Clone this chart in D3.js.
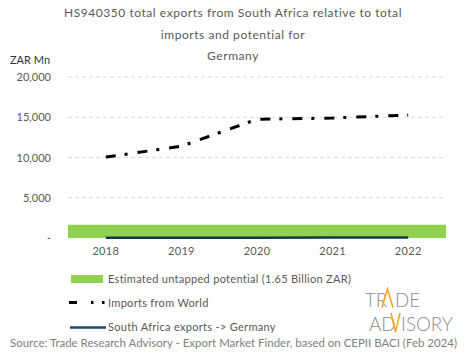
<!DOCTYPE html>
<html>
<head>
<meta charset="utf-8">
<script src="https://cdn.jsdelivr.net/npm/d3@7"></script>
<style>
  html, body { margin: 0; padding: 0; background: #fff; }
  svg { display: block; }
  text { font-family: Lato, "Open Sans", sans-serif; }
</style>
</head>
<body>
<script>
const years = ["2018", "2019", "2020", "2021", "2022"];
const importsFromWorld = [10050, 11400, 14750, 14900, 15280];
const saExports = [40, 45, 35, 50, 55];
const untappedPotential = [1650, 1650, 1650, 1650, 1650];
const yTicks = [0, 5000, 10000, 15000, 20000];
const titleLines = ["HS940350 total exports from South Africa relative  to total", "imports and potential  for", "Germany"];
const legendLabels = ["Estimated untapped potential (1.65 Billion ZAR)", "Imports from World", "South Africa exports -> Germany"];
const sourceText = "Source: Trade Research Advisory - Export Market Finder, based on CEPII BACI (Feb 2024)";

const W = 465, H = 359;
const svg = d3.select("body").append("svg").attr("width", W).attr("height", H);

const x = d3.scaleBand().domain(years).range([68, 446]);
const y = d3.scaleLinear().domain([0, 20000]).range([238, 77]);

// title
svg.append("g").selectAll("text").data(titleLines).join("text")
  .attr("x", 233).attr("y", (d, i) => 17 + i * 21.5)
  .attr("text-anchor", "middle").attr("font-size", 12).attr("letter-spacing", 0.55).attr("fill", "#595959")
  .text(d => d);

svg.append("text").attr("x", 10).attr("y", 64).attr("font-size", 11).attr("fill", "#333").text("ZAR Mn");

// gridlines
svg.append("g").selectAll("line").data(yTicks.filter(d => d > 0)).join("line")
  .attr("x1", 68).attr("x2", 446).attr("y1", d => y(d)).attr("y2", d => y(d))
  .attr("stroke", "#d9d9d9").attr("stroke-dasharray", "4,3").attr("stroke-width", 1);

// y axis
const yAxis = d3.axisLeft(y).tickValues(yTicks).tickSize(0).tickPadding(0)
  .tickFormat(d => d === 0 ? "-" : d3.format(",")(d));
const yg = svg.append("g").attr("transform", "translate(51,0)").call(yAxis);
yg.select(".domain").remove();
yg.selectAll("text").attr("font-size", 11).attr("fill", "#595959").attr("font-family", "Lato, sans-serif");

// x axis
const xAxis = d3.axisBottom(x).tickSize(0).tickPadding(0);
const xg = svg.append("g").attr("transform", "translate(0,247)").call(xAxis);
xg.select(".domain").remove();
xg.selectAll("text").attr("font-size", 11).attr("letter-spacing", 0.3).attr("fill", "#595959").attr("font-family", "Lato, sans-serif");

// potential band (area spanning whole plot)
const potData = untappedPotential.map((v, i) => ({ year: years[i], v }));
const area = d3.area()
  .x((d, i) => i === 0 ? x.range()[0] : (i === potData.length - 1 ? x.range()[1] : x(d.year) + x.bandwidth() / 2))
  .y0(y(0)).y1(d => y(d.v));
svg.append("path").datum(potData).attr("d", area).attr("fill", "#92d050");

// SA exports
const line = d3.line().x((d, i) => x(years[i]) + x.bandwidth() / 2).y(d => y(d));
svg.append("path").datum(saExports).attr("d", line).attr("fill", "none")
  .attr("stroke", "#0e3c46").attr("stroke-width", 2.5);

// imports
svg.append("path").datum(importsFromWorld).attr("d", line).attr("fill", "none")
  .attr("stroke", "#000").attr("stroke-width", 3).attr("stroke-dasharray", "10,9,3,10");

// legend
const lg = svg.append("g");
lg.append("rect").attr("x", 71).attr("y", 275).attr("width", 32).attr("height", 8).attr("fill", "#92d050");
lg.append("path").attr("d", "M69,302.5H106").attr("stroke", "#000").attr("stroke-width", 3)
  .attr("stroke-dasharray", "8,14,2.5,8.5,2.5,20");
lg.append("path").attr("d", "M70,327.5H106").attr("stroke", "#1f4d63").attr("stroke-width", 2.5);
lg.selectAll("text").data(legendLabels).join("text")
  .attr("x", 108).attr("y", (d, i) => 283 + i * 24)
  .attr("font-size", 11).attr("letter-spacing", 0.3).attr("fill", "#595959").text(d => d);

// source
svg.append("text").attr("x", 10).attr("y", 346.5).attr("font-size", 10.5).attr("fill", "#808080")
  .attr("textLength", 447).attr("lengthAdjust", "spacingAndGlyphs").text(sourceText);

// logo (one text element, horizontally condensed)
const logo = svg.append("g");
const lt = logo.append("text").attr("font-family", "Roboto, sans-serif").attr("font-weight", 300)
  .attr("fill", "#8c8c8c").attr("font-size", 20.5);
const probe = lt.append("tspan").text("ISORY");
const s = 52 / probe.node().getComputedTextLength();
probe.remove();
const logoParts = [
  { t: "TR", x: 365, y: 307.5 },
  { t: "DE", x: 395, y: 307.5 },
  { t: "AD", x: 369, y: 331.5 },
  { t: "ISORY", x: 401, y: 331.5 }
];
lt.attr("transform", `scale(${s},1)`);
lt.selectAll("tspan").data(logoParts).join("tspan")
  .attr("x", d => d.x / s).attr("y", d => d.y).text(d => d.t);
logo.append("path").attr("d", "M382,307.5L387.5,289L393,307.5").attr("fill", "none").attr("stroke", "#f5a623").attr("stroke-width", 1.6);
logo.append("path").attr("d", "M391,313L395.5,332L400,313").attr("fill", "none").attr("stroke", "#f5a623").attr("stroke-width", 1.6);
</script>
</body>
</html>
